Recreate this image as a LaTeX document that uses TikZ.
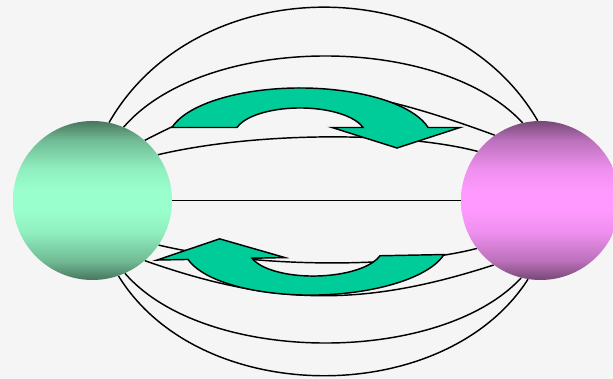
\documentclass[tikz,border=0pt]{standalone}
\definecolor{bgc}{RGB}{245,245,245}
\definecolor{gd}{RGB}{72,118,94}
\definecolor{gl}{RGB}{153,255,204}
\definecolor{pd}{RGB}{118,72,118}
\definecolor{pl}{RGB}{255,153,255}
\definecolor{arrc}{RGB}{0,204,153}
\colorlet{gm}{gd!50!gl}
\colorlet{gn}{gd!12!gl}
\colorlet{pm}{pd!50!pl}
\colorlet{pn}{pd!12!pl}
\pgfdeclareverticalshading{gball}{100bp}{color(0bp)=(gd); color(25bp)=(gd); color(31bp)=(gm); color(40bp)=(gn); color(47bp)=(gl); color(53bp)=(gl); color(60bp)=(gn); color(69bp)=(gm); color(75bp)=(gd); color(100bp)=(gd)}
\pgfdeclareverticalshading{pball}{100bp}{color(0bp)=(pd); color(25bp)=(pd); color(31bp)=(pm); color(40bp)=(pn); color(47bp)=(pl); color(53bp)=(pl); color(60bp)=(pn); color(69bp)=(pm); color(75bp)=(pd); color(100bp)=(pd)}
\begin{document}
\begin{tikzpicture}[x=1pt,y=1pt,
  ball/.style={circle, minimum size=159pt, inner sep=0pt},
  fieldline/.style={draw=black, line width=1.45pt},
  bigarrow/.style={draw=black, line width=1.45pt, fill=arrc, line join=miter}]
\useasboundingbox (0,0) rectangle (613,379);
\clip (0,0) rectangle (613,379);
\fill[bgc] (0,0) rectangle (613,379);
% sphere positions (drawn later on top)
\coordinate (Lc) at (92.5,178.5);
\coordinate (Rc) at (540.5,178.5);
\path (Lc) node[ball] (L) {} (Rc) node[ball] (R) {};
% field lines
\draw[fieldline] (L.78) .. controls (197,410) and (450,410) .. (R.92);
\draw[fieldline] (L.67) .. controls (205,346) and (440,346) .. (R.103);
\draw[fieldline] (L.49.5) .. controls (269,303) and (333,303) .. (R.125.5);
\draw[fieldline] (L.35) .. controls (256,247.5) and (402,247.5) .. (R.142.6);
\draw[fieldline] (L.east) -- (R.west);
\draw[fieldline] (L.-34) .. controls (256,110.7) and (400,110.7) .. (R.217);
\draw[fieldline] (L.-49.5) .. controls (275,72.3) and (365,72.3) .. (R.234);
\draw[fieldline] (L.-66) .. controls (205,13.5) and (440,13.5) .. (R.256);
\draw[fieldline] (L.-71.6) .. controls (200,-29.5) and (445,-29.5) .. (R.261);
% upper curved arrow
\draw[bigarrow] (172,251.5) arc[start angle=166.1, end angle=13.9, x radius=131.9, y radius=52]
  -- (460,251.5) -- (397,231) -- (332,251.5) -- (363,251.5)
  arc[start angle=16.1, end angle=163.9, x radius=65.6, y radius=27] -- cycle;
% lower curved arrow
\begin{scope}[rotate around={1.1:(316,122)}]
\draw[bigarrow] (444,122) arc[start angle=-14.3, end angle=-165.7, x radius=132.1, y radius=50.5]
  -- (157,122) -- (220,142) -- (285,122) -- (252,122)
  arc[start angle=-163.6, end angle=-16.4, x radius=66.7, y radius=26.5] -- cycle;
\end{scope}
% spheres
\shade[shading=gball] (L.center) circle[radius=79.5];
\shade[shading=pball] (R.center) circle[radius=79.5];
\end{tikzpicture}
\end{document}
